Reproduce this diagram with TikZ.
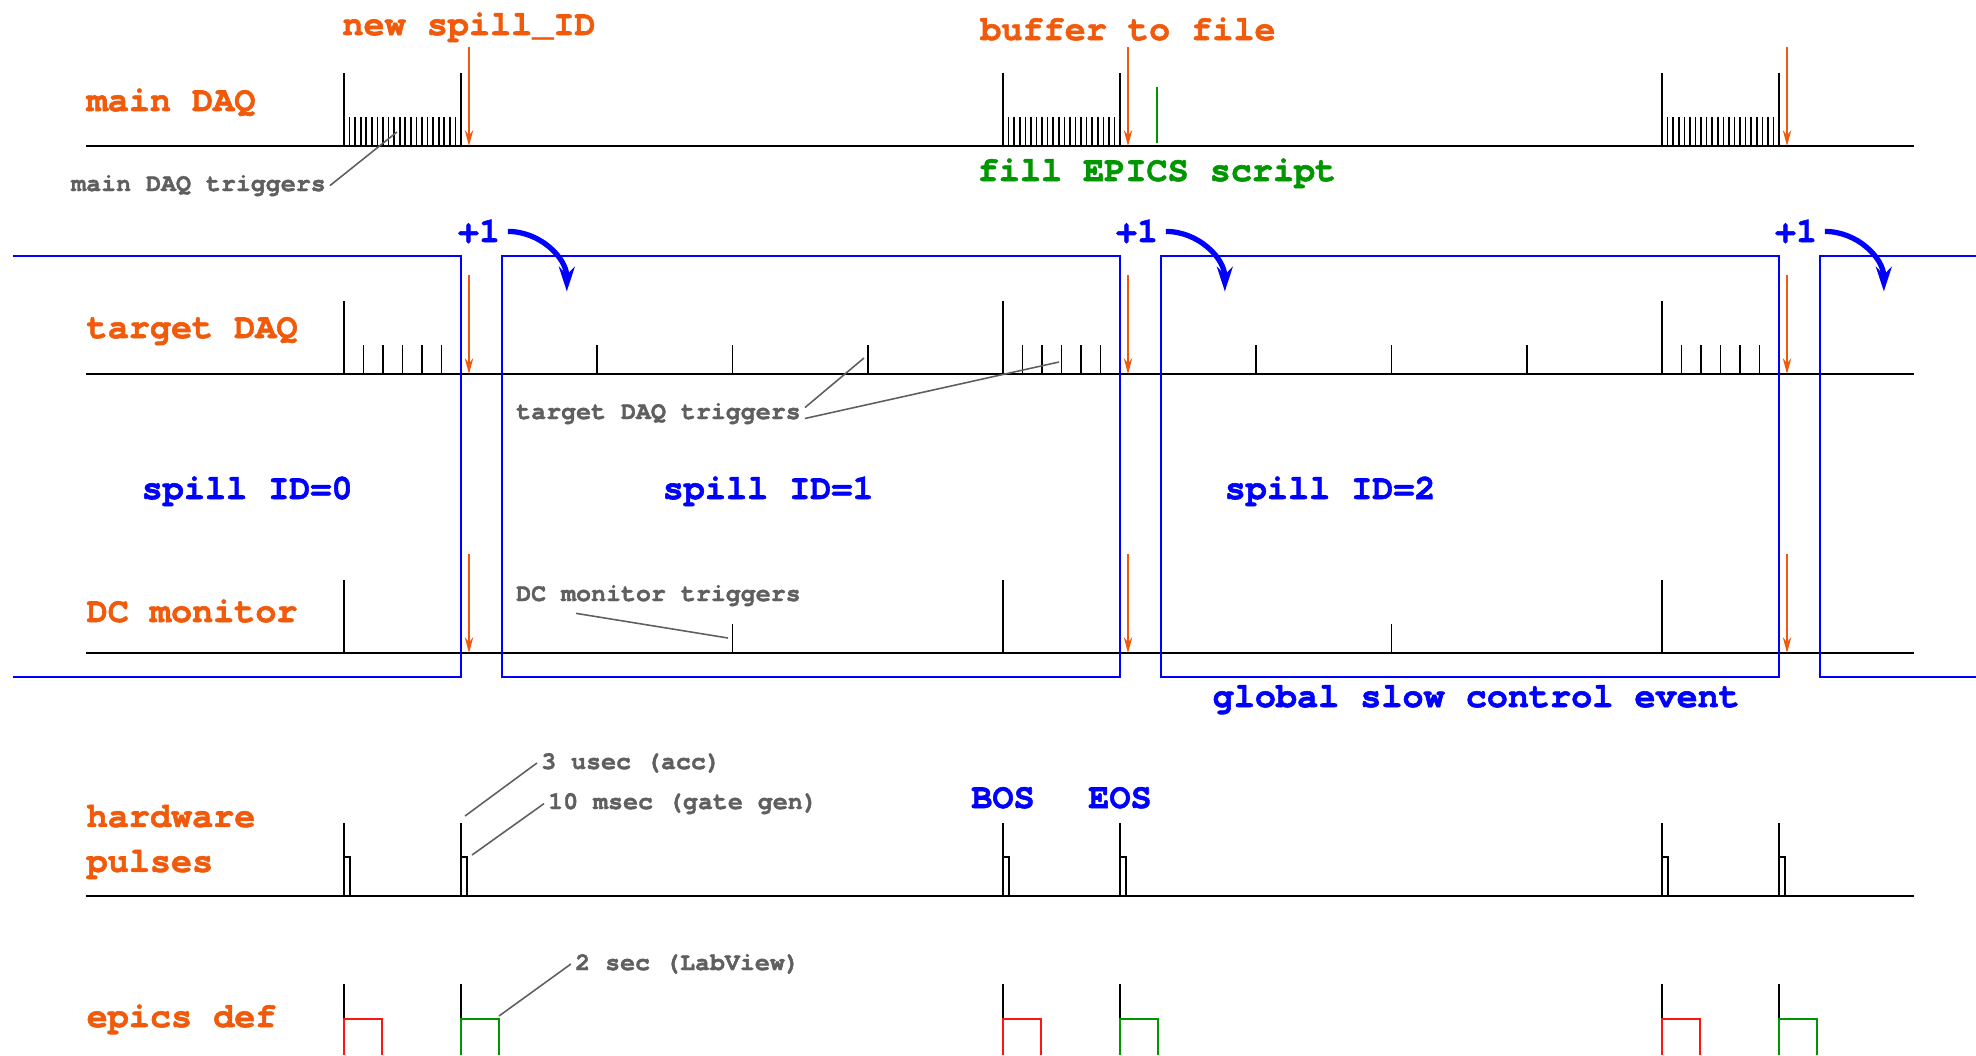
\documentclass[tikz,border=0pt]{standalone}
\usepackage{fontspec}
\newfontfamily\daqfont[FakeBold=1.6, Ligatures=NoCommon]{texgyrecursor-bold.otf}
\usetikzlibrary{calc,arrows.meta}
\usepackage{xcolor}
\definecolor{labelorange}{RGB}{240,90,10}
\definecolor{spillblue}{RGB}{0,0,255}
\definecolor{epicsgreen}{RGB}{0,150,0}
\definecolor{epicsred}{RGB}{255,20,20}
\definecolor{notegray}{RGB}{95,95,95}

\begin{document}
\begin{tikzpicture}[x=0.1mm, y=-0.1mm,
    rowlabel/.style={anchor=base west, inner sep=0pt, text=labelorange,
                     font=\fontsize{10}{12.8}\selectfont\daqfont},
    spilllabel/.style={anchor=base west, inner sep=0pt, text=spillblue,
                       font=\fontsize{10}{12}\selectfont\daqfont},
    note/.style={anchor=base west, inner sep=1pt, text=notegray,
                 font=\fontsize{7.1}{8.5}\selectfont\daqfont},
    pointer/.style={draw=notegray, line width=0.45pt},
    timeline/.style={line width=0.6pt},
    trig/.style={line width=0.45pt},
    spillbox/.style={draw=spillblue, line width=0.75pt},
    marker/.style={-{Stealth[length=4.5pt, width=2.4pt]}, draw=labelorange, line width=0.45pt},
    incr/.style={-{Stealth[length=7pt, width=4.5pt]}, draw=spillblue, line width=1.5pt}
]
\useasboundingbox (0,0) rectangle (1976,1055);

\foreach \y in {146,374,653,896}
    \draw[timeline] (86,\y) -- (1914,\y);

\foreach \t in {344,1003,1662} {
    % main DAQ
    \draw[trig] (\t,73) -- (\t,146) (\t+117,73) -- (\t+117,146);
    \foreach \k in {1,...,20}
        \draw[trig] (\t+5.571*\k,117) -- (\t+5.571*\k,146);
    % target DAQ
    \draw[trig] (\t,301) -- (\t,374) (\t+117,301) -- (\t+117,374);
    \foreach \k in {1,...,5}
        \draw[trig] (\t+19.5*\k,345) -- (\t+19.5*\k,374);
    % DC monitor
    \draw[trig] (\t,580) -- (\t,653) (\t+117,580) -- (\t+117,653);
    % hardware pulses
    \foreach \p in {\t,\t+117}
        \draw[trig] (\p,823) -- (\p,896) (\p,857) -| (\p+6,896);
    % epics def
    \draw[trig] (\t,984) -- (\t,1019) (\t+117,984) -- (\t+117,1019);
    \draw[epicsred, line width=0.6pt] (\t,1055) |- (\t+38,1019) -- (\t+38,1055);
    \draw[epicsgreen, line width=0.6pt] (\t+117,1055) |- (\t+155,1019) -- (\t+155,1055);
    % end of spill
    \foreach \y in {146,374,653}
        \draw[marker] (\t+125,\y-99) -- (\t+125,\y);
}

\foreach \k in {1,2,3}
    \draw[trig] (461+135.75*\k,345) -- (461+135.75*\k,374)
                (1120+135.75*\k,345) -- (1120+135.75*\k,374);
\foreach \x in {732.5,1391.5}
    \draw[trig] (\x,624) -- (\x,653);
\draw[epicsgreen, line width=0.6pt] (1157,87) -- (1157,143);

\draw[spillbox] (13,256) -- (461,256) -- (461,677) -- (13,677);
\draw[spillbox] (502,256) rectangle (1120,677);
\draw[spillbox] (1161,256) rectangle (1779,677);
\draw[spillbox] (1976,256) -- (1820,256) -- (1820,677) -- (1976,677);

\foreach \i/\x in {1/479,2/1137,3/1796} {
    \node[spilllabel, anchor=base, inner sep=2pt] (inc\i) at (\x,242) {+1};
    \coordinate (inctip\i) at ($(inc\i.east)+(59,60)$);
    \draw[incr] (inc\i.east) to[out=0, in=90] (inctip\i);
}

\node[rowlabel] (maindaq) at (86,111) {main DAQ};
\node[rowlabel] (targetdaq) at (86,338) {target DAQ};
\node[rowlabel] (dcmon) at (86,622) {DC monitor};
\node[rowlabel, anchor=west, align=left] (hwpulse) at (86,842) {hardware\\pulses};
\node[rowlabel] (epicsdef) at (86,1027) {epics def};

\node[rowlabel, anchor=base] (newspill) at (469,35) {new spill\_ID};
\node[rowlabel, anchor=base] (buffer) at (1128,40) {buffer to file};
\node[rowlabel, anchor=base, text=epicsgreen] (fillepics) at (1157,181) {fill EPICS script};

\node[spilllabel] (spill0) at (141,499) {spill ID=0};
\node[spilllabel] (spill1) at (662,499) {spill ID=1};
\node[spilllabel] (spill2) at (1224,499) {spill ID=2};
\node[spilllabel] (slowctrl) at (1212,707) {global slow control event};
\node[spilllabel, anchor=base] (bos) at (1003,808) {BOS};
\node[spilllabel, anchor=base] (eos) at (1120,808) {EOS};

\node[note] (maintrig) at (67,191) {main DAQ triggers};
\node[note] (targettrig) at (512,419) {target DAQ triggers};
\node[note] (dctrig) at (512,601) {DC monitor triggers};
\node[note] (accnote) at (537,769) {3 usec (acc)};
\node[note] (gatenote) at (544,809) {10 msec (gate gen)};
\node[note] (labnote) at (571,970) {2 sec (LabView)};

\coordinate (maintick) at (397,132);
\coordinate (targettick1) at (864,358);
\coordinate (targettick2) at (1059,362);
\coordinate (dctick) at (728,638);
\coordinate (accpulse) at (465,816);
\coordinate (gatepulse) at (472,855);
\coordinate (labpulse) at (499,1016);

\draw[pointer] (maintrig.east) -- (maintick);
\draw[pointer] ([yshift=1.7pt]targettrig.east) -- (targettick1);
\draw[pointer] ([yshift=-1.4pt]targettrig.east) -- (targettick2);
\draw[pointer] ($(dctrig.south west)+(64,3)$) -- (dctick);
\draw[pointer] (accnote.west) -- (accpulse);
\draw[pointer] (gatenote.west) -- (gatepulse);
\draw[pointer] (labnote.west) -- (labpulse);

\end{tikzpicture}
\end{document}
